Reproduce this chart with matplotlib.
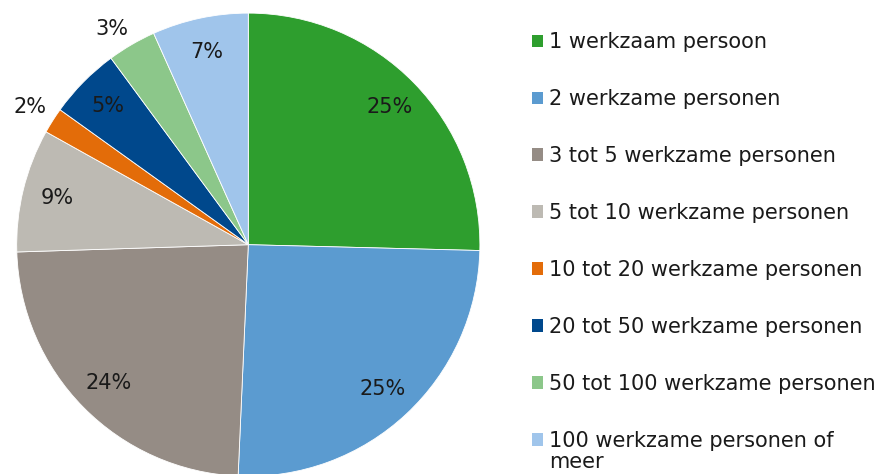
import matplotlib
matplotlib.use("Agg")
import matplotlib.pyplot as plt
import numpy as np
from matplotlib.patches import Patch

categories = ["1 werkzaam persoon", "2 werkzame personen", "3 tot 5 werkzame personen",
              "5 tot 10 werkzame personen", "10 tot 20 werkzame personen",
              "20 tot 50 werkzame personen", "50 tot 100 werkzame personen",
              "100 werkzame personen of", ]
last_label_cont = "meer"
values = [25.4, 25.3, 23.8, 8.6, 1.8, 5.0, 3.4, 6.7]
colors = ["#2E9E2E", "#5B9BD0", "#958C85", "#BDBAB3", "#E36C09", "#00488C", "#8CC78A", "#A0C5EB"]
outside = [False, False, False, False, True, False, True, False]

plt.rcParams['font.family'] = ['DejaVu Sans']
W, H = 885, 474
FS = 15
fig = plt.figure(figsize=(W / 100, H / 100), dpi=100)
cx, cy, r = 248.3, 474 - 244.7, 231.6
ax = fig.add_axes([(cx - r) / W, (cy - r) / H, 2 * r / W, 2 * r / H])
wedges, texts, autotexts = ax.pie(values, colors=colors, startangle=90, counterclock=False,
                                  autopct='%.0f%%', pctdistance=0.85, radius=1,
                                  wedgeprops=dict(edgecolor='white', linewidth=0.6),
                                  textprops=dict(fontsize=FS, color='#1a1a1a'))
for w, t, out in zip(wedges, autotexts, outside):
    if out:
        ang = np.deg2rad((w.theta1 + w.theta2) / 2)
        t.set_position((1.03 * np.cos(ang), 1.03 * np.sin(ang)))
        t.set_ha('right')
        t.set_va('bottom')
ax.set_xlim(-1, 1)
ax.set_ylim(-1, 1)
ax.set_aspect('equal')
ax.axis('off')

handles = [Patch(facecolor=c, edgecolor='none') for c in colors]
leg = fig.legend(handles, categories, loc='upper left', bbox_to_anchor=(532 / W, 1 - 32 / H),
                 frameon=False, fontsize=FS, handlelength=0.52, handleheight=0.52,
                 handletextpad=0.3, labelspacing=1.775, borderaxespad=0, borderpad=0)
for t in leg.get_texts():
    t.set_color('#1a1a1a')

fig.canvas.draw()
bb = leg.get_texts()[-1].get_window_extent()
fig.text(bb.x0 / W, (bb.y0 - 0.1 * FS) / H, last_label_cont, fontsize=FS, color='#1a1a1a',
         ha='left', va='top')

fig.savefig("out.png", dpi=100)
